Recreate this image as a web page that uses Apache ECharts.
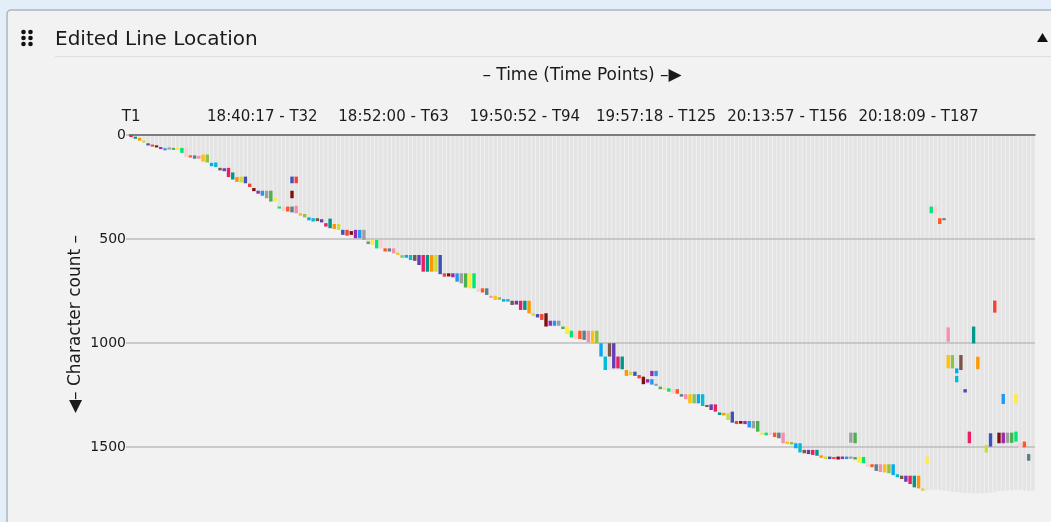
<!DOCTYPE html>
<html>
<head>
<meta charset="utf-8">
<title>Edited Line Location</title>
<script src="https://cdn.jsdelivr.net/npm/echarts/dist/echarts.min.js"></script>
<style>
  html, body { margin: 0; padding: 0; background: #e4eef9; }
  #chart { width: 1051px; height: 522px; }
</style>
</head>
<body>
<div id="chart"></div>
<script>
//------------ data

var pointCount = 214;
var tickPoints = [1, 32, 63, 94, 125, 156, 187];
var tickTimes = ['', '18:40:17', '18:52:00', '19:50:52', '19:57:18', '20:13:57', '20:18:09'];

// document length (characters) at each time point
var docLength = [
  8, 18, 27, 36, 50, 54, 58, 66, 72, 72, 72, 72, 86, 104, 108, 114, 114, 128, 132, 150,
  154, 170, 174, 202, 214, 226, 228, 232, 250, 270, 282, 292, 304, 320, 320, 352, 366, 368, 372, 376,
  388, 396, 410, 416, 416, 420, 440, 448, 452, 456, 480, 484, 484, 496, 496, 504, 524, 528, 545, 546,
  560, 560, 569, 576, 590, 590, 601, 605, 625, 657, 657, 657, 657, 669, 681, 681, 684, 705, 713, 733,
  737, 737, 753, 757, 769, 781, 793, 793, 801, 801, 817, 817, 841, 841, 857, 869, 877, 889, 921, 921,
  921, 921, 933, 957, 973, 981, 981, 985, 997, 1001, 1001, 1065, 1130, 1130, 1130, 1130, 1130, 1158, 1158, 1158,
  1170, 1198, 1198, 1200, 1206, 1222, 1226, 1234, 1242, 1244, 1258, 1270, 1290, 1290, 1290, 1303, 1308, 1322, 1330, 1346,
  1348, 1370, 1383, 1390, 1390, 1390, 1406, 1410, 1426, 1442, 1444, 1444, 1452, 1458, 1482, 1486, 1488, 1506, 1526, 1530,
  1534, 1538, 1542, 1552, 1558, 1558, 1558, 1560, 1560, 1560, 1560, 1560, 1575, 1578, 1595, 1597, 1615, 1620, 1622, 1626,
  1635, 1645, 1654, 1667, 1678, 1694, 1699, 1710, 1708, 1706, 1706, 1708, 1710, 1712, 1716, 1718, 1720, 1722, 1722, 1724,
  1724, 1722, 1722, 1720, 1716, 1712, 1710, 1708, 1708, 1706, 1706, 1708, 1710, 1710
];

// edit at the end of the text, one per time point (index = time point - 1)
var diagFrom = [
  0, 8, 14, 27, 40, 46, 50, 58, 64, 60, 62, 62, 62, 62, 98, 98, 100, 94, 94, 134,
  132, 158, 160, 158, 180, 202, 200, 200, 234, 255, 268, 268, 268, 268, 304, 344, 344, 344, 344, 340,
  376, 380, 396, 400, 400, 405, 424, 402, 428, 428, 456, 456, 462, 456, 456, 456, 512, 505, 505, 505,
  545, 545, 545, 566, 578, 577, 577, 577, 577, 577, 577, 577, 577, 577, 665, 665, 665, 665, 665, 665,
  665, 665, 741, 737, 737, 773, 773, 780, 789, 789, 797, 797, 797, 797, 797, 857, 861, 861, 857, 893,
  893, 893, 921, 921, 941, 941, 941, 941, 941, 941, 941, 1001, 1065, 1001, 1001, 1065, 1065, 1130, 1138, 1138,
  1154, 1162, 1174, 1174, 1196, 1210, 1212, 1218, 1222, 1222, 1246, 1246, 1246, 1246, 1246, 1246, 1298, 1295, 1295, 1334,
  1336, 1338, 1330, 1375, 1375, 1375, 1375, 1375, 1375, 1431, 1431, 1431, 1431, 1431, 1431, 1474, 1476, 1482, 1482, 1514,
  1514, 1514, 1514, 1540, 1546, 1546, 1548, 1546, 1546, 1546, 1546, 1548, 1546, 1548, 1583, 1583, 1583, 1583, 1583, 1583,
  1583, 1631, 1638, 1638, 1638, 1638, 1638, 1699
];
var diagTo = [
  8, 18, 27, 36, 50, 54, 58, 66, 72, 68, 70, 70, 86, 104, 108, 114, 114, 128, 132, 150,
  154, 170, 174, 202, 214, 226, 228, 232, 250, 270, 282, 292, 304, 320, 318, 352, 366, 368, 372, 376,
  388, 396, 410, 416, 414, 420, 440, 448, 452, 456, 480, 484, 480, 496, 496, 504, 524, 528, 545, 546,
  560, 560, 569, 576, 590, 590, 601, 605, 625, 657, 657, 657, 657, 669, 681, 680, 684, 705, 713, 733,
  737, 737, 753, 757, 769, 781, 793, 792, 801, 801, 817, 815, 841, 841, 857, 869, 877, 889, 921, 917,
  917, 917, 933, 957, 973, 981, 981, 985, 997, 1001, 1001, 1065, 1130, 1065, 1122, 1122, 1126, 1158, 1154, 1158,
  1170, 1198, 1190, 1200, 1206, 1222, 1226, 1234, 1242, 1244, 1258, 1270, 1290, 1290, 1290, 1303, 1308, 1322, 1330, 1346,
  1348, 1370, 1383, 1390, 1388, 1390, 1406, 1410, 1426, 1442, 1444, 1442, 1452, 1458, 1482, 1486, 1488, 1506, 1526, 1530,
  1534, 1538, 1542, 1552, 1558, 1558, 1558, 1560, 1558, 1558, 1556, 1560, 1575, 1578, 1595, 1597, 1615, 1620, 1622, 1626,
  1635, 1645, 1654, 1667, 1678, 1694, 1699, 1710
];

// edits made further up in the text
var extraTime = [39, 40, 39, 124, 125, 171, 172, 189, 190, 191, 192, 193, 194, 194, 195, 196, 196, 197, 198, 199,
                 200, 201, 203, 204, 205, 206, 207, 207, 208, 209, 210, 210, 211, 212, 213];
var extraFrom = [200, 200, 268, 1134, 1134, 1431, 1431, 1546, 344, 344, 400, 400, 925, 1058, 1058, 1122, 1158, 1058, 1222, 1426,
                 921, 1066, 1490, 1434, 796, 1431, 1431, 1245, 1431, 1431, 1245, 1426, 1479, 1474, 1534];
var extraTo   = [232, 232, 304, 1159, 1159, 1479, 1482, 1581, 376, 376, 428, 408, 994, 1122, 1122, 1146, 1189, 1130, 1238, 1482,
                 1002, 1126, 1527, 1498, 854, 1482, 1482, 1293, 1480, 1480, 1290, 1474, 1506, 1501, 1566];

var palette = ['#e91e63', '#4caf50', '#00bcd4', '#9c27b0', '#ffc107', '#3f51b5', '#ff5722', '#009688',
               '#ffeb3b', '#795548', '#2196f3', '#8bc34a', '#f44336', '#607d8b', '#ff9800', '#00e676',
               '#673ab7', '#9e9e9e', '#03a9f4', '#7f1010', '#f48fb1', '#cddc39', '#ffcdd2'];

//------------ chart

var categories = [];
for (var i = 0; i < pointCount; i++) {
  categories.push('T' + (i + 1));
}

var edits = [];
for (var d = 0; d < diagFrom.length; d++) {
  edits.push([d, diagFrom[d], diagTo[d]]);
}
for (var e = 0; e < extraTime.length; e++) {
  edits.push([extraTime[e] - 1, extraFrom[e], extraTo[e]]);
}
var editData = edits.map(function (v, k) {
  return { value: v, itemStyle: { color: palette[(k * 7) % palette.length] } };
});

var fontFamily = "'DejaVu Sans', 'Noto Sans', sans-serif";

var chart = echarts.init(document.getElementById('chart'));
var option = {
  animation: false,
  backgroundColor: '#e4eef9',
  textStyle: { fontFamily: fontFamily },
  graphic: {
    elements: [
      {
        type: 'rect', z: 0,
        shape: { x: 7, y: 10, width: 1060, height: 530, r: 4 },
        style: { fill: '#f2f2f2', stroke: '#aab6c3', lineWidth: 1.5 }
      },
      { type: 'circle', z: 1, shape: { cx: 23.5, cy: 32, r: 2.3 }, style: { fill: '#111' } },
      { type: 'circle', z: 1, shape: { cx: 30.5, cy: 32, r: 2.3 }, style: { fill: '#111' } },
      { type: 'circle', z: 1, shape: { cx: 23.5, cy: 38, r: 2.3 }, style: { fill: '#111' } },
      { type: 'circle', z: 1, shape: { cx: 30.5, cy: 38, r: 2.3 }, style: { fill: '#111' } },
      { type: 'circle', z: 1, shape: { cx: 23.5, cy: 44, r: 2.3 }, style: { fill: '#111' } },
      { type: 'circle', z: 1, shape: { cx: 30.5, cy: 44, r: 2.3 }, style: { fill: '#111' } },
      {
        type: 'text', z: 1, x: 55, y: 40,
        style: {
          text: 'Edited Line Location', font: '20px ' + fontFamily, fill: '#1a1a1a',
          textAlign: 'left', textVerticalAlign: 'middle', align: 'left', verticalAlign: 'middle'
        }
      },
      {
        type: 'line', z: 1,
        shape: { x1: 55, y1: 56.5, x2: 1051, y2: 56.5 },
        style: { stroke: '#dedede', lineWidth: 1 }
      },
      {
        type: 'polygon', z: 1,
        shape: { points: [[1037, 42], [1048, 42], [1042.5, 33]] },
        style: { fill: '#111' }
      },
      {
        type: 'text', z: 1, x: 76, y: 324, rotation: Math.PI / 2,
        style: {
          text: '\u25C0\u2013 Character count \u2013', font: '17px ' + fontFamily, fill: '#1a1a1a',
          textAlign: 'center', textVerticalAlign: 'middle', align: 'center', verticalAlign: 'middle'
        }
      }
    ]
  },
  grid: { left: 129, width: 906, top: 135, height: 416, outerBoundsMode: 'none', containLabel: false },
  xAxis: {
    type: 'category',
    position: 'top',
    data: categories,
    z: 3,
    name: '\u2013 Time (Time Points) \u2013\u25B6',
    nameLocation: 'middle',
    nameGap: 51,
    nameTextStyle: { fontSize: 17, color: '#1a1a1a', fontFamily: fontFamily },
    axisLine: { lineStyle: { color: '#666', width: 1.5 } },
    axisTick: { interval: 30, alignWithLabel: true, length: 5, lineStyle: { color: '#444' } },
    axisLabel: {
      interval: 30,
      margin: 10,
      fontSize: 15,
      color: '#1a1a1a',
      fontFamily: fontFamily,
      formatter: function (value, idx) {
        var k = tickPoints.indexOf(idx + 1);
        return (k > 0 && tickTimes[k]) ? tickTimes[k] + ' - ' + value : value;
      }
    },
    splitLine: { show: false }
  },
  yAxis: {
    type: 'value',
    inverse: true,
    min: 0,
    max: 2000,
    interval: 500,
    z: 3,
    axisLine: { show: false },
    axisTick: { show: true, length: 3, lineStyle: { color: '#bdbdbd', width: 1.5 } },
    axisLabel: {
      margin: 3, fontSize: 14, color: '#1a1a1a', fontFamily: fontFamily,
      showMaxLabel: false,
      formatter: function (v) { return String(v); }
    },
    splitLine: { show: true, lineStyle: { color: '#bdbdbd', width: 1.5 } }
  },
  series: [
    {
      name: 'Length',
      type: 'bar',
      z: 1,
      barWidth: '80%',
      silent: true,
      itemStyle: { color: '#e4e4e4' },
      data: docLength
    },
    {
      name: 'Edits',
      type: 'custom',
      z: 4,
      silent: true,
      encode: { x: 0, y: [1, 2] },
      renderItem: function (params, api) {
        var top = api.coord([api.value(0), api.value(1)]);
        var bottom = api.coord([api.value(0), api.value(2)]);
        var w = api.size([1, 0])[0] * 0.8;
        var h = Math.max(bottom[1] - top[1], 2);
        return {
          type: 'rect',
          shape: { x: top[0] - w / 2, y: top[1], width: w, height: h },
          style: { fill: api.visual('color') }
        };
      },
      data: editData
    }
  ]
};
chart.setOption(option);
</script>
</body>
</html>
